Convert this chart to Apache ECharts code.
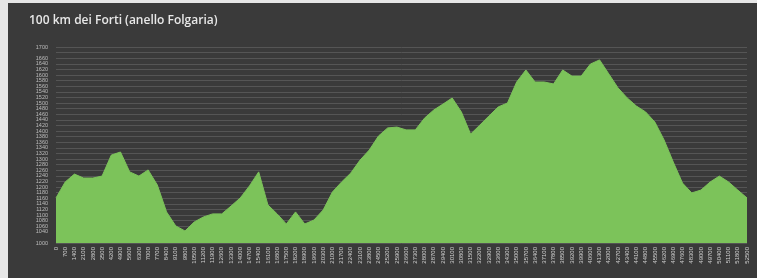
<!DOCTYPE html>
<html><head><meta charset="utf-8">
<script src="https://cdn.jsdelivr.net/npm/echarts@6/dist/echarts.min.js"></script>
<style>
html,body{margin:0;padding:0;background:#e6e6e6;width:757px;height:278px;overflow:hidden}
#c{position:absolute;left:8px;top:3px;width:749px;height:275px;background:#3a3a3a}
</style></head><body>
<div id="c"></div>
<script>
const title = '100 km dei Forti (anello Folgaria)';
const distances = [0,700,1400,2100,2800,3500,4200,4900,5600,6300,7000,7700,8400,9100,9800,10500,11200,11900,12600,13300,14000,14700,15400,16100,16800,17500,18200,18900,19600,20300,21000,21700,22400,23100,23800,24500,25200,25900,26600,27300,28000,28700,29400,30100,30800,31500,32200,32900,33600,34300,35000,35700,36400,37100,37800,38500,39200,39900,40600,41300,42000,42700,43400,44100,44800,45500,46200,46900,47600,48300,49000,49700,50400,51100,51800,52500];
const elevation = [1161,1218,1246,1232,1232,1239,1314,1325,1254,1239,1261,1207,1111,1061,1043,1075,1093,1104,1104,1132,1161,1204,1254,1136,1104,1068,1111,1068,1082,1118,1182,1218,1250,1296,1332,1382,1411,1414,1404,1404,1446,1475,1496,1518,1468,1389,1421,1454,1486,1500,1575,1618,1575,1575,1568,1618,1596,1596,1639,1654,1604,1554,1518,1489,1468,1432,1368,1289,1214,1179,1189,1218,1239,1218,1189,1161];
const yMin = 1000, yMax = 1700, yStep = 20;

const chart = echarts.init(document.getElementById('c'), null, {renderer:'canvas'});
chart.setOption({
  backgroundColor:'#3a3a3a',
  animation:false,
  title:{text:title,left:16,top:7,textStyle:{color:'#e8e8e8',fontSize:12,fontWeight:600,fontFamily:'Open Sans'}},
  grid:{left:48,right:10,top:44,bottom:35},
  xAxis:{type:'category',data:distances,boundaryGap:false,
    axisLine:{show:false},axisTick:{show:false},
    axisLabel:{interval:0,rotate:90,fontSize:6,color:'#d0d0d0',fontFamily:'Liberation Sans',margin:4}},
  yAxis:{type:'value',min:yMin,max:yMax,interval:yStep,
    axisLine:{show:false},axisTick:{show:false},
    axisLabel:{fontSize:5.5,color:'#bdbdbd',fontFamily:'Liberation Sans',margin:8,
      hideOverlap:false,showMinLabel:true,showMaxLabel:true,formatter:v=>String(v)},
    splitLine:{lineStyle:{color:'#555555',width:1}}},
  series:[{type:'line',data:elevation,symbol:'none',
    lineStyle:{width:1,color:'#7cc35a'},
    areaStyle:{color:'#7cc35a',opacity:1}}]
});
</script></body></html>
